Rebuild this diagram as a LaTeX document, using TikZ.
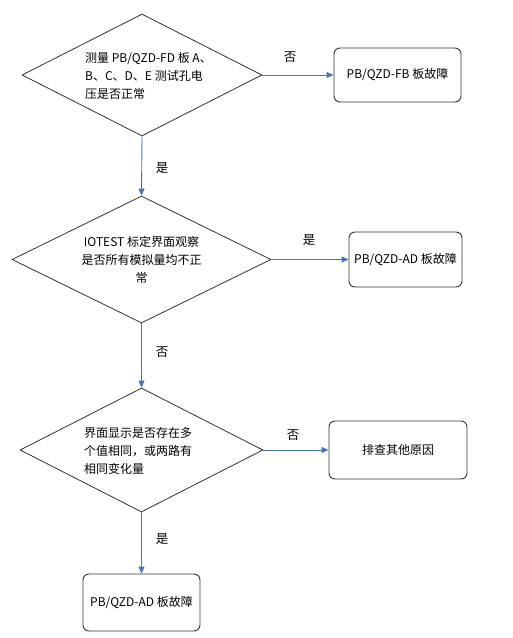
\documentclass[tikz,border=0pt]{standalone}
\usepackage{fontspec}
\setmainfont{Noto Sans CJK SC}
\usetikzlibrary{shapes.geometric,arrows.meta}
\definecolor{arrowblue}{HTML}{4472C4}
\definecolor{edgegray}{HTML}{333333}
\tikzset{
  decision/.style={draw=edgegray,line width=0.8pt,shape=diamond,inner sep=0pt,aspect=2},
  dtext/.style={font=\fontsize{12}{18}\selectfont,inner sep=0pt},
  outbox/.style={draw=edgegray,line width=0.9pt,rounded corners=6pt,inner sep=0pt,font=\fontsize{12}{14}\selectfont},
  flow/.style={draw=arrowblue,line width=0.9pt,-{Triangle[length=7pt,width=6pt]}},
  lbl/.style={font=\fontsize{12.5}{14}\selectfont,inner sep=0pt}
}
\begin{document}
\begin{tikzpicture}[x=1pt,y=-1pt]
\useasboundingbox (0,0) rectangle (513,638);
% decisions
\node[decision,minimum width=240pt,minimum height=122pt] (d1) at (142,75) {};
\node[dtext,anchor=west,align=left] (t1) at (85,76) {测量 PB/QZD-FD 板 A、\\B、C、D、E 测试孔电\\压是否正常};
\node[decision,minimum width=259pt,minimum height=127pt] (d2) at (141.5,259.5) {};
\node[dtext,align=center] (t2) at (141.5,260) {IOTEST 标定界面观察\\是否所有模拟量均不正\\常};
\node[decision,minimum width=243pt,minimum height=124pt] (d3) at (141.5,450) {};
\node[dtext,anchor=west,align=left] (t3) at (84,451) {界面显示是否存在多\\个值相同，或两路有\\相同变化量};
% outcome boxes
\node[outbox,minimum width=127pt,minimum height=54pt] (b1) at (397.5,75) {PB/QZD-FB 板故障};
\node[outbox,minimum width=113pt,minimum height=55pt] (b2) at (405.5,259.5) {PB/QZD-AD 板故障};
\node[outbox,minimum width=138pt,minimum height=58pt] (b3) at (398,450) {排查其他原因};
\node[outbox,minimum width=117pt,minimum height=57pt] (b4) at (141.5,602.5) {PB/QZD-AD 板故障};
% connectors
\draw[flow] (d1.east) -- (b1.west);
\draw[flow] (d1.south) -- (d2.north);
\draw[flow] (d2.east) -- (b2.west);
\draw[flow] (d2.south) -- (d3.north);
\draw[flow] (d3.east) -- (b3.west);
\draw[flow] (d3.south) -- (b4.north);
% labels
\node[lbl] (l1) at (290,57) {否};
\node[lbl] (l2) at (162,168) {是};
\node[lbl] (l3) at (309,240) {是};
\node[lbl] (l4) at (162,352) {否};
\node[lbl] (l5) at (293,435) {否};
\node[lbl] (l6) at (162,539) {是};
\end{tikzpicture}
\end{document}
